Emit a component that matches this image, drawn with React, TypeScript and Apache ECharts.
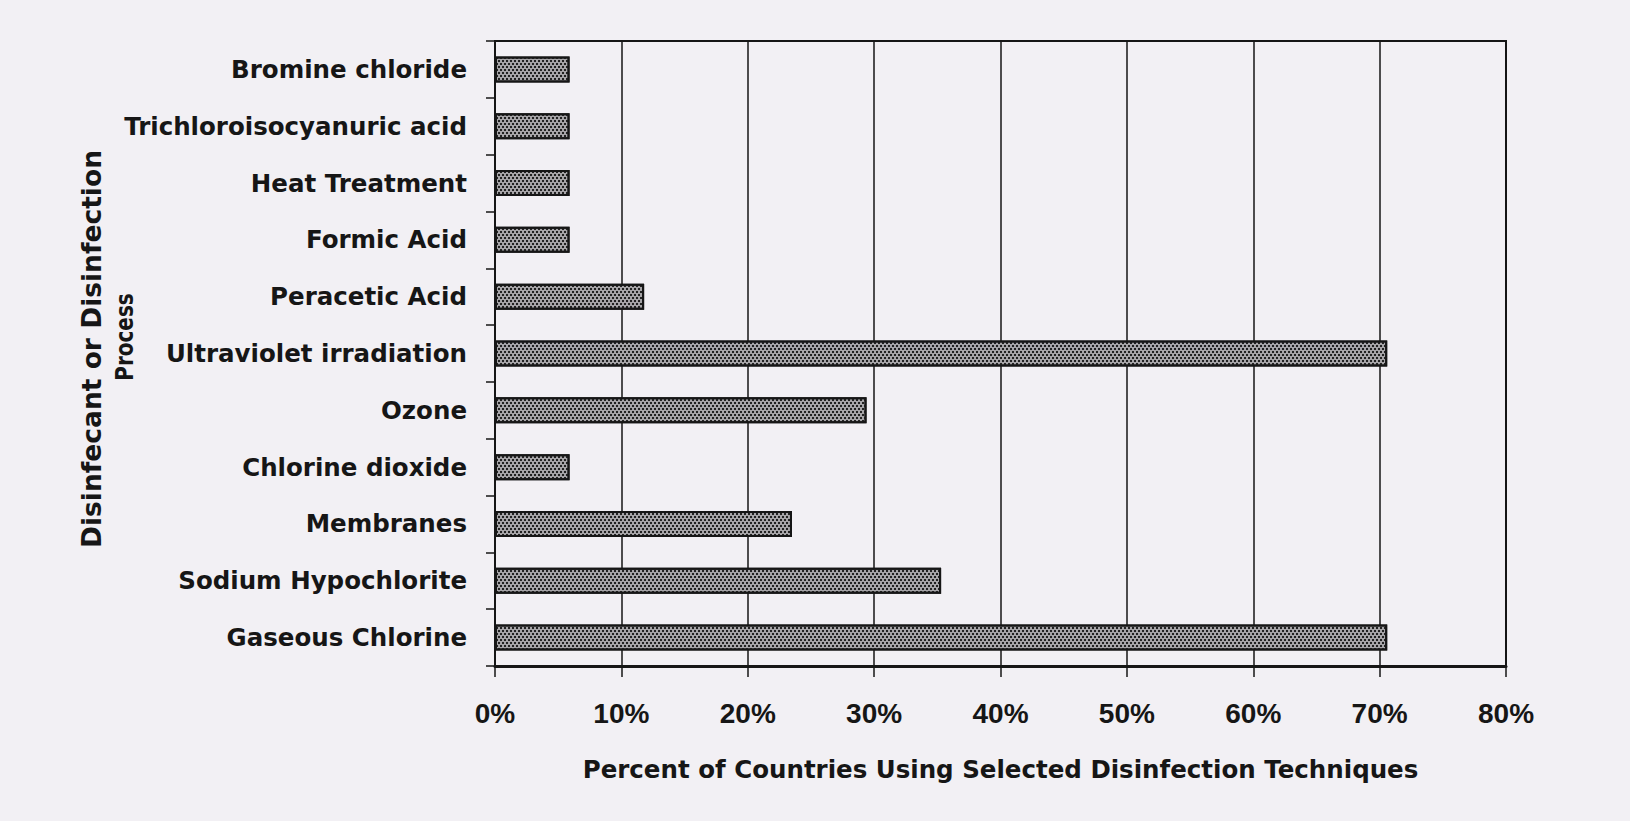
import React, { useEffect, useRef } from 'react';
import * as echarts from 'echarts';

const categories = [
  'Bromine chloride',
  'Trichloroisocyanuric acid',
  'Heat Treatment',
  'Formic Acid',
  'Peracetic Acid',
  'Ultraviolet irradiation',
  'Ozone',
  'Chlorine dioxide',
  'Membranes',
  'Sodium Hypochlorite',
  'Gaseous Chlorine',
];
const percentValues = [5.9, 5.9, 5.9, 5.9, 11.8, 70.6, 29.4, 5.9, 23.5, 35.3, 70.6];
const xAxisTitle = 'Percent of Countries Using Selected Disinfection Techniques';
const yAxisTitleLine1 = 'Disinfecant or Disinfection';
const yAxisTitleLine2 = 'Process';

export default function App() {
  const ref = useRef<HTMLDivElement>(null);
  useEffect(() => {
    if (!ref.current) return;
    const chart = echarts.init(ref.current, undefined, { renderer: 'svg' });
    const ink = '#161616';
    chart.setOption({
      animation: false,
      backgroundColor: '#f2f0f4',
      grid: {
        left: 495,
        top: 41,
        width: 1011,
        height: 625,
        show: true,
        borderColor: ink,
        borderWidth: 2,
        backgroundColor: 'transparent',
        containLabel: false,
      },
      xAxis: {
        type: 'value',
        min: 0,
        max: 80,
        interval: 10,
        position: 'bottom',
        name: xAxisTitle,
        nameLocation: 'middle',
        nameGap: 91,
        nameTextStyle: {
          fontFamily: 'DejaVu Sans',
          fontWeight: 'bold',
          fontSize: 24.5,
          color: ink,
        },
        axisLine: { show: true, lineStyle: { color: ink, width: 3 } },
        axisTick: { show: true, inside: false, length: 11, lineStyle: { color: ink, width: 1.5 } },
        splitLine: { show: true, lineStyle: { color: ink, width: 1.5 } },
        axisLabel: {
          formatter: '{value}%',
          margin: 33,
          fontFamily: 'Liberation Sans',
          fontWeight: 'bold',
          fontSize: 28,
          color: ink,
        },
      },
      yAxis: {
        type: 'category',
        data: categories,
        inverse: true,
        axisLine: { show: true, lineStyle: { color: ink, width: 2 } },
        axisTick: { show: true, inside: false, length: 9, lineStyle: { color: ink, width: 1.5 } },
        splitLine: { show: false },
        axisLabel: {
          margin: 28,
          fontFamily: 'DejaVu Sans',
          fontWeight: 'bold',
          fontSize: 24.5,
          color: ink,
        },
      },
      series: [
        {
          type: 'bar',
          data: percentValues,
          barWidth: 26,
          itemStyle: {
            color: '#a6a4a7',
            borderColor: ink,
            borderWidth: 2,
            decal: {
              symbol: 'rect',
              symbolSize: 1,
              color: '#222222',
              dashArrayX: [[2, 2], [0, 2, 2, 0]],
              dashArrayY: [2, 1],
              rotation: 0,
            },
          },
        },
      ],
      graphic: [
        {
          type: 'text',
          x: 91,
          y: 349,
          rotation: Math.PI / 2,
          style: {
            text: yAxisTitleLine1,
            fontFamily: 'DejaVu Sans',
            fontWeight: 'bold',
            fontSize: 26.5,
            fill: ink,
            textAlign: 'center',
            textVerticalAlign: 'middle',
          },
        },
        {
          type: 'text',
          x: 124.5,
          y: 337,
          rotation: Math.PI / 2,
          scaleX: 0.8,
          style: {
            text: yAxisTitleLine2,
            fontFamily: 'DejaVu Sans',
            fontWeight: 'bold',
            fontSize: 25,
            fill: ink,
            textAlign: 'center',
            textVerticalAlign: 'middle',
          },
        },
      ],
    });
    return () => chart.dispose();
  }, []);
  return (
    <div
      ref={ref}
      style={{ position: 'fixed', left: 0, top: 0, width: 1630, height: 821 }}
    />
  );
}
